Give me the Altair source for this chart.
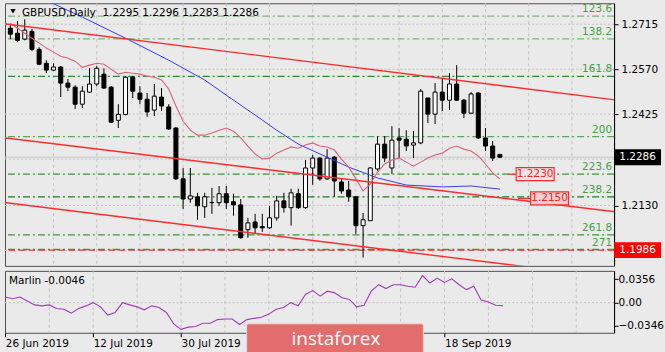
import altair as alt
import pandas as pd

# ---------------- data ----------------
bar_index = list(range(69))
opens = [1.2702, 1.2686, 1.2667, 1.2692, 1.2634, 1.2589, 1.2567, 1.2577, 1.2525, 1.2512,
         1.2457, 1.2496, 1.2522, 1.2554, 1.2512, 1.2405, 1.2424, 1.2544, 1.2493, 1.2473,
         1.2438, 1.2480, 1.2448, 1.2380, 1.2216, 1.2151, 1.2158, 1.2126, 1.2139, 1.2139,
         1.2168, 1.2142, 1.2132, 1.2052, 1.2077, 1.2062, 1.2058, 1.2090, 1.2145, 1.2123,
         1.2168, 1.2123, 1.2251, 1.2283, 1.2216, 1.2286, 1.2206, 1.2180, 1.2158, 1.2065,
         1.2081, 1.2248, 1.2328, 1.2251, 1.2348, 1.2344, 1.2325, 1.2332, 1.2477, 1.2425,
         1.2496, 1.2470, 1.2522, 1.2470, 1.2428, 1.2493, 1.2348, 1.2322, 1.2295]
highs = [1.2712, 1.2725, 1.2731, 1.2700, 1.2641, 1.2599, 1.2589, 1.2580, 1.2538, 1.2518,
         1.2515, 1.2573, 1.2580, 1.2573, 1.2515, 1.2457, 1.2547, 1.2547, 1.2515, 1.2493,
         1.2522, 1.2509, 1.2457, 1.2383, 1.2251, 1.2251, 1.2171, 1.2171, 1.2187, 1.2193,
         1.2193, 1.2168, 1.2151, 1.2090, 1.2103, 1.2103, 1.2129, 1.2161, 1.2171, 1.2184,
         1.2184, 1.2277, 1.2293, 1.2286, 1.2312, 1.2290, 1.2216, 1.2209, 1.2158, 1.2106,
         1.2254, 1.2354, 1.2354, 1.2386, 1.2380, 1.2373, 1.2370, 1.2506, 1.2477, 1.2525,
         1.2538, 1.2557, 1.2583, 1.2474, 1.2496, 1.2496, 1.2380, 1.2338, 1.2296]
lows = [1.2667, 1.2657, 1.2663, 1.2628, 1.2583, 1.2557, 1.2564, 1.2480, 1.2499, 1.2441,
        1.2445, 1.2493, 1.2515, 1.2506, 1.2396, 1.2380, 1.2421, 1.2477, 1.2457, 1.2416,
        1.2419, 1.2435, 1.2374, 1.2213, 1.2119, 1.2139, 1.2084, 1.2090, 1.2103, 1.2129,
        1.2119, 1.2097, 1.2023, 1.2026, 1.2039, 1.2045, 1.2055, 1.2081, 1.2107, 1.2065,
        1.2119, 1.2119, 1.2197, 1.2210, 1.2213, 1.2158, 1.2168, 1.2142, 1.2039, 1.1962,
        1.2081, 1.2242, 1.2270, 1.2232, 1.2283, 1.2306, 1.2283, 1.2328, 1.2396, 1.2393,
        1.2435, 1.2438, 1.2467, 1.2412, 1.2425, 1.2345, 1.2306, 1.2274, 1.2283]
closes = [1.2683, 1.2663, 1.2696, 1.2634, 1.2586, 1.2567, 1.2577, 1.2525, 1.2512, 1.2457,
          1.2499, 1.2522, 1.2573, 1.2509, 1.2399, 1.2424, 1.2544, 1.2499, 1.2473, 1.2432,
          1.2483, 1.2451, 1.2377, 1.2216, 1.2151, 1.2161, 1.2129, 1.2158, 1.2140, 1.2168,
          1.2139, 1.2132, 1.2026, 1.2074, 1.2058, 1.2058, 1.2090, 1.2145, 1.2123, 1.2171,
          1.2123, 1.2251, 1.2283, 1.2216, 1.2283, 1.2209, 1.2177, 1.2158, 1.2065, 1.2084,
          1.2251, 1.2328, 1.2283, 1.2341, 1.2341, 1.2322, 1.2332, 1.2499, 1.2425, 1.2496,
          1.2470, 1.2522, 1.2470, 1.2428, 1.2490, 1.2348, 1.2322, 1.2283, 1.2286]

ma_fast = [1.2718, 1.2702, 1.2686, 1.2670, 1.2654, 1.2638, 1.2625, 1.2612, 1.2605, 1.2596,
           1.2576, 1.2583, 1.2589, 1.2586, 1.2570, 1.2554, 1.2560, 1.2557, 1.2554, 1.2547,
           1.2544, 1.2535, 1.2506, 1.2451, 1.2402, 1.2373, 1.2357, 1.2357, 1.2364, 1.2373,
           1.2380, 1.2370, 1.2348, 1.2322, 1.2296, 1.2280, 1.2283, 1.2299, 1.2309, 1.2319,
           1.2315, 1.2325, 1.2332, 1.2322, 1.2319, 1.2309, 1.2280, 1.2254, 1.2216, 1.2177,
           1.2199, 1.2238, 1.2264, 1.2277, 1.2283, 1.2270, 1.2257, 1.2270, 1.2283, 1.2293,
           1.2299, 1.2315, 1.2322, 1.2312, 1.2306, 1.2290, 1.2264, 1.2235, 1.2216]

ma_slow_index = [0, 5, 10, 16, 22, 27, 30, 34, 37, 40, 44, 47, 51, 55, 60, 64, 68]
ma_slow = [1.2850, 1.2792, 1.2738, 1.2670, 1.2599, 1.2535, 1.2486, 1.2422, 1.2373,
           1.2328, 1.2286, 1.2254, 1.2219, 1.2196, 1.2190, 1.2193, 1.2183]

marlin = [0.0084, 0.0059, 0.0084, 0.0025, -0.0034, -0.0049, -0.0034, -0.0089, -0.0099, -0.0158,
          -0.0089, -0.0049, 0.0000, -0.0064, -0.0188, -0.0148, 0.0000, -0.0034, -0.0064, -0.0108,
          -0.0049, -0.0074, -0.0148, -0.0321, -0.0404, -0.0370, -0.0360, -0.0311, -0.0311, -0.0256,
          -0.0247, -0.0247, -0.0330, -0.0256, -0.0237, -0.0222, -0.0173, -0.0099, -0.0074, 0.0000,
          -0.0049, 0.0123, 0.0182, 0.0099, 0.0173, 0.0148, 0.0074, 0.0049, -0.0064, -0.0040,
          0.0173, 0.0271, 0.0212, 0.0271, 0.0271, 0.0247, 0.0232, 0.0410, 0.0296, 0.0370,
          0.0306, 0.0360, 0.0271, 0.0197, 0.0247, 0.0040, 0.0010, -0.0040, -0.0046]

price_ticks = [1.2715, 1.2570, 1.2425, 1.2130]
grid_prices = [1.2715, 1.2570, 1.2425, 1.2280, 1.2130, 1.1985]
grid_bars = [6, 12, 18, 24, 30, 36, 42, 48, 54, 60, 66, 72, 78]
date_ticks = [0, 12, 24, 60]
date_labels = ["26 Jun 2019", "12 Jul 2019", "30 Jul 2019", "18 Sep 2019"]

fib_labels = ["123.6", "138.2", "161.8", "200", "223.6", "238.2", "261.8", "271"]
fib_levels = [1.2741, 1.2668, 1.2547, 1.2352, 1.2231, 1.2158, 1.2035, 1.1988]

channel_ends = [-1, 84]
channel_upper = [1.2717, 1.2471]
channel_middle = [1.2349, 1.2110]
channel_lower = [1.2140, 1.1897]

bid_price = 1.2286
support_price = 1.1986
note_bars = [72.9, 74.9]
note_prices = [1.2231, 1.2153]
note_texts = ["1.2230", "1.2150"]
note_ray_from = [69.1, 70.5]
note_ray_to = [70.3, 72.3]

marlin_ticks = [0.0356, 0.0, -0.0346]
title_text = "GBPUSD,Daily\u00a0\u00a01.2295 1.2296 1.2283 1.2286"
marlin_title = "Marlin -0.0046"

# ---------------- layout / style ----------------
FONT = "DejaVu Sans"
W, H_MAIN, H_IND = 610, 263, 62
BG = "#eaeaea"
xs = alt.Scale(domain=[-0.05, 83.17], nice=False, zero=False)
ys = alt.Scale(domain=[1.19352, 1.27827], nice=False, zero=False)
ms = alt.Scale(domain=[-0.0455, 0.048], nice=False, zero=False)

main_axis = alt.Axis(orient="right", values=price_ticks, format=".4f", title=None,
                     grid=False, tickSize=4, labelPadding=3, domain=True)
date_expr = " : ".join(f"datum.value == {t} ? '{l}'" for t, l in zip(date_ticks, date_labels)) + " : ''"
date_axis = alt.Axis(orient="bottom", values=date_ticks, labelExpr=date_expr, labelAlign="left",
                     labelFlush=False, tickSize=4, labelPadding=2, domain=False, grid=False, title=None)
ind_axis = alt.Axis(orient="right", values=marlin_ticks, title=None, grid=False, tickSize=4,
                    labelPadding=0, domain=True,
                    labelExpr="datum.value == 0 ? '0.00' : format(datum.value, '.4f')")


def X(field="i"):
    return alt.X(f"{field}:Q", scale=xs, axis=None)


def Y(field):
    return alt.Y(f"{field}:Q", scale=ys, axis=main_axis)


candles = pd.DataFrame({"i": bar_index, "o": opens, "h": highs, "l": lows, "c": closes})
fast_df = pd.DataFrame({"i": bar_index, "p": ma_fast})
slow_df = pd.DataFrame({"i": ma_slow_index, "p": ma_slow})
fib_df = pd.DataFrame({"lab": fib_labels, "p": fib_levels})
grid_p_df = pd.DataFrame({"p": grid_prices})
grid_b_df = pd.DataFrame({"i": grid_bars})
chan_rows = []
for name, vals in [("upper", channel_upper), ("middle", channel_middle), ("lower", channel_lower)]:
    for i, p in zip(channel_ends, vals):
        chan_rows.append({"i": i, "p": p, "name": name})
chan_df = pd.DataFrame(chan_rows)
ray_df = pd.DataFrame({"i": note_ray_from, "i2": note_ray_to, "p": note_prices})
one = pd.DataFrame({"a": [0]})

fib_colors = ["#74b974", "#74b974", "#2e8b2e", "#5aa95a", "#3c963c", "#1a7f1a", "#3c963c", "#3c963c"]
note_fills = ["#f2e4e4", "#f6d0d0"]
BOX_NOTE = "M-1,-0.342L1,-0.342L1,0.342L-1,0.342Z"
BOX_AXIS = "M-1,-0.34L1,-0.34L1,0.34L-1,0.34Z"

vgrid = alt.Chart(grid_b_df).mark_rule(color="#c2c2c2", strokeDash=[3, 3], strokeWidth=1).encode(x=X())
hgrid = alt.Chart(grid_p_df).mark_rule(color="#c2c2c2", strokeDash=[2, 2], strokeWidth=1).encode(y=Y("p"))
bid_line = alt.Chart(pd.DataFrame({"p": [bid_price]})).mark_rule(color="#c8c8c8", strokeWidth=1).encode(y=Y("p"))
fib_lines = alt.Chart(fib_df).mark_rule(strokeDash=[7, 3, 2, 3], strokeWidth=1.3).encode(
    y=Y("p"),
    color=alt.Color("lab:N", scale=alt.Scale(domain=fib_labels, range=fib_colors), legend=None))
support_line = alt.Chart(pd.DataFrame({"p": [support_price]})).mark_rule(
    color="#ff3030", strokeDash=[6, 4], strokeWidth=1.3).encode(y=Y("p"))
fib_text = alt.Chart(fib_df).mark_text(align="right", baseline="middle", dy=-7, font=FONT,
                                       fontSize=10.5, color="#45a045").encode(
    x=alt.value(W - 2), y=Y("p"), text="lab:N")

wicks = alt.Chart(candles).mark_rule(color="black", strokeWidth=1, clip=True).encode(
    x=X(), y=Y("l"), y2="h:Q")
bodies = alt.Chart(candles).mark_bar(size=4, stroke="black", strokeWidth=1, clip=True).encode(
    x=X(), y=Y("o"), y2="c:Q",
    fill=alt.condition("datum.c >= datum.o", alt.value("white"), alt.value("black")))

slow_line = alt.Chart(slow_df).mark_line(color="#3a3af0", strokeWidth=1, clip=True).encode(x=X(), y=Y("p"))
fast_line = alt.Chart(fast_df).mark_line(color="#e05f7a", strokeWidth=1.1, clip=True).encode(x=X(), y=Y("p"))
channels = alt.Chart(chan_df).mark_line(color="#ff2b2b", strokeWidth=1.4, clip=True).encode(
    x=X(), y=Y("p"), detail="name:N")

rays = alt.Chart(ray_df).mark_rule(color="#ff2b2b", strokeWidth=1.2).encode(x=X(), x2="i2:Q", y=Y("p"))

note_layers = []
for b, p, t, f in zip(note_bars, note_prices, note_texts, note_fills):
    d = pd.DataFrame({"i": [b], "p": [p], "t": [t]})
    note_layers.append(alt.Chart(d).mark_point(shape=BOX_NOTE, size=38 ** 2, filled=True, opacity=1,
                                               fill=f, stroke="#ff2b2b", strokeWidth=1.2).encode(
        x=X(), y=Y("p")))
    note_layers.append(alt.Chart(d).mark_text(font=FONT, fontSize=10.5, color="#ff2020",
                                              align="center", baseline="middle").encode(
        x=X(), y=Y("p"), text="t:N"))

axis_layers = []
for p, f in [(bid_price, "#000000"), (support_price, "#ff0000")]:
    d = pd.DataFrame({"p": [p], "t": [f"{p:.4f}"]})
    axis_layers.append(alt.Chart(d).mark_point(shape=BOX_AXIS, size=47 ** 2, filled=True, opacity=1,
                                               fill=f, strokeWidth=0).encode(
        x=alt.value(W + 23.5), y=Y("p")))
    axis_layers.append(alt.Chart(d).mark_text(font=FONT, fontSize=10.5, color="white",
                                              align="center", baseline="middle").encode(
        x=alt.value(W + 23.5), y=Y("p"), text="t:N"))

tri = alt.Chart(one).mark_point(shape="triangle-down", filled=True, color="black", size=30, opacity=1).encode(
    x=alt.value(8), y=alt.value(8))
title = alt.Chart(one).mark_text(font=FONT, fontSize=10.5, color="black", align="left",
                                 baseline="middle", text=title_text).encode(x=alt.value(17), y=alt.value(10))

main = alt.layer(vgrid, hgrid, bid_line, fib_lines, support_line, fib_text, wicks, bodies,
                 slow_line, fast_line, channels, rays, *note_layers, *axis_layers,
                 tri, title).properties(width=W, height=H_MAIN)

# ---------------- indicator panel ----------------
XB = lambda field="i": alt.X(f"{field}:Q", scale=xs, axis=date_axis)
MY = lambda field: alt.Y(f"{field}:Q", scale=ms, axis=ind_axis)

marlin_df = pd.DataFrame({"i": bar_index, "m": marlin})
ind_vgrid = alt.Chart(grid_b_df).mark_rule(color="#c2c2c2", strokeDash=[3, 3]).encode(x=XB())
ind_zero = alt.Chart(pd.DataFrame({"m": [0.0]})).mark_rule(color="#c2c2c2", strokeDash=[2, 2]).encode(y=MY("m"))
marlin_line = alt.Chart(marlin_df).mark_line(color="#a23cba", strokeWidth=1.1, clip=True).encode(
    x=XB(), y=MY("m"))
marlin_lab = alt.Chart(one).mark_text(font=FONT, fontSize=10.5, color="black", align="left",
                                      baseline="middle", text=marlin_title).encode(x=alt.value(4), y=alt.value(10))
wm_box = alt.Chart(one).mark_rect(color="#e36d6d", stroke="#f4d4d4", strokeWidth=1, cornerRadius=2).encode(
    x=alt.value(242), x2=alt.value(419), y=alt.value(53), y2=alt.value(84))
wm_text = alt.Chart(one).mark_text(font="Open Sans", fontSize=19, color="white", align="left",
                                   baseline="middle", text="instaforex").encode(x=alt.value(287), y=alt.value(68))

indicator = alt.layer(ind_vgrid, ind_zero, marlin_line, marlin_lab, wm_box, wm_text).properties(
    width=W, height=H_IND)

chart = alt.vconcat(main, indicator, spacing=3).properties(
    padding={"left": 3, "top": 2, "right": 0, "bottom": 0},
    background=BG,
).configure_view(stroke="#505050", strokeWidth=1, fill=BG).configure_axis(
    labelFont=FONT, labelFontSize=10.5, labelColor="black", tickColor="black", domainColor="black"
)

chart.save("out.html", embed_options={"renderer": "svg", "actions": False})
